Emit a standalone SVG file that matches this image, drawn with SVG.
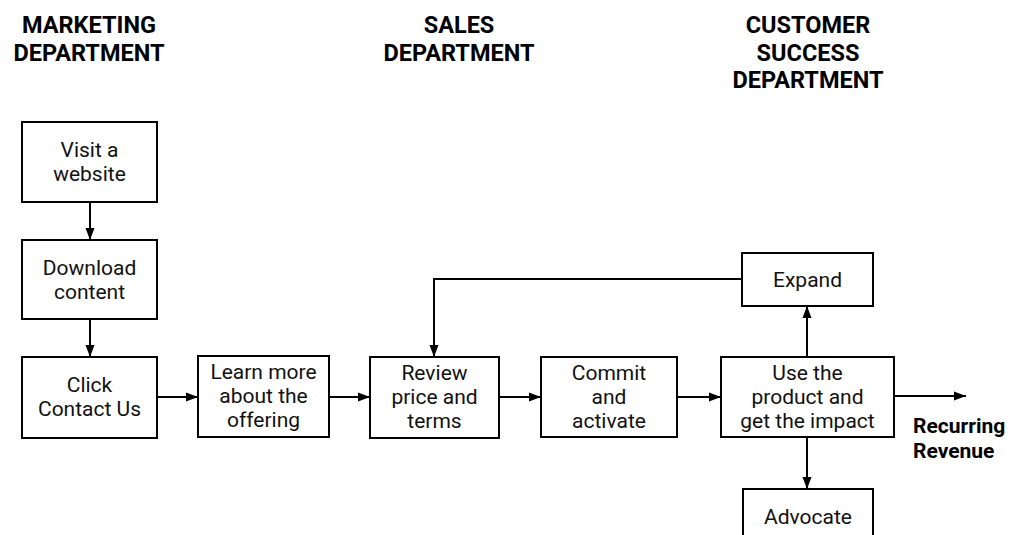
<svg xmlns="http://www.w3.org/2000/svg" width="1020" height="535" viewBox="0 0 1020 535">
<style>
.box{fill:#fff;stroke:#000;stroke-width:2}
.t{font-family:Roboto,"Liberation Sans",sans-serif;font-size:21px;fill:#111;text-anchor:middle}
.h{font-family:Roboto,"Liberation Sans",sans-serif;font-size:23.5px;font-weight:bold;fill:#000;text-anchor:middle}
.rr{font-family:Roboto,"Liberation Sans",sans-serif;font-size:21px;font-weight:bold;fill:#000}
.c{fill:none;stroke:#000;stroke-width:2}
</style>
<defs>
<marker id="ah" viewBox="0 0 12 10" refX="12" refY="5" markerWidth="12" markerHeight="10" orient="auto" markerUnits="userSpaceOnUse">
<path d="M0,0.5 L12,5 L0,9.5 z" fill="#000"/>
</marker>
</defs>
<rect width="1020" height="535" fill="#fff"/>
<g id="headers">
<text class="h" x="89" y="33">MARKETING</text>
<text class="h" x="89" y="61">DEPARTMENT</text>
<text class="h" x="459" y="33">SALES</text>
<text class="h" x="459" y="61">DEPARTMENT</text>
<text class="h" x="808" y="33">CUSTOMER</text>
<text class="h" x="808" y="61">SUCCESS</text>
<text class="h" x="808" y="88">DEPARTMENT</text>
</g>
<g id="connectors">
<line class="c" x1="90" y1="202" x2="90" y2="240" marker-end="url(#ah)"/>
<line class="c" x1="90" y1="319" x2="90" y2="357" marker-end="url(#ah)"/>
<line class="c" x1="157" y1="397" x2="198" y2="397" marker-end="url(#ah)"/>
<line class="c" x1="329" y1="397" x2="370" y2="397" marker-end="url(#ah)"/>
<line class="c" x1="499" y1="397" x2="541" y2="397" marker-end="url(#ah)"/>
<line class="c" x1="677" y1="397" x2="721" y2="397" marker-end="url(#ah)"/>
<line class="c" x1="807" y1="357" x2="807" y2="306" marker-end="url(#ah)"/>
<line class="c" x1="807" y1="437" x2="807" y2="489" marker-end="url(#ah)"/>
<polyline class="c" points="742,279 434,279 434,357" marker-end="url(#ah)"/>
<line class="c" x1="894" y1="396" x2="966" y2="396" marker-end="url(#ah)"/>
</g>
<g id="visit">
<rect class="box" x="22" y="122" width="135" height="80"/>
<text class="t" x="89.5" y="157">Visit a</text>
<text class="t" x="89.5" y="181">website</text>
</g>
<g id="download">
<rect class="box" x="22" y="240" width="135" height="79"/>
<text class="t" x="89.5" y="275">Download</text>
<text class="t" x="89.5" y="299">content</text>
</g>
<g id="click">
<rect class="box" x="22" y="357" width="135" height="81"/>
<text class="t" x="89.5" y="392">Click</text>
<text class="t" x="89.5" y="416">Contact Us</text>
</g>
<g id="learn">
<rect class="box" x="198" y="356" width="131" height="81"/>
<text class="t" x="263.5" y="379">Learn more</text>
<text class="t" x="263.5" y="403">about the</text>
<text class="t" x="263.5" y="427">offering</text>
</g>
<g id="review">
<rect class="box" x="370" y="357" width="129" height="81"/>
<text class="t" x="434.5" y="380">Review</text>
<text class="t" x="434.5" y="404">price and</text>
<text class="t" x="434.5" y="428">terms</text>
</g>
<g id="commit">
<rect class="box" x="541" y="357" width="136" height="80"/>
<text class="t" x="609" y="380">Commit</text>
<text class="t" x="609" y="404">and</text>
<text class="t" x="609" y="428">activate</text>
</g>
<g id="use">
<rect class="box" x="721" y="357" width="173" height="80"/>
<text class="t" x="807.5" y="380">Use the</text>
<text class="t" x="807.5" y="404">product and</text>
<text class="t" x="807.5" y="428">get the impact</text>
</g>
<g id="expand">
<rect class="box" x="742" y="253" width="131" height="53"/>
<text class="t" x="807.5" y="287">Expand</text>
</g>
<g id="advocate">
<rect class="box" x="743" y="489" width="130" height="60"/>
<text class="t" x="808" y="524">Advocate</text>
</g>
<g id="revenue">
<text class="rr" x="913" y="433">Recurring</text>
<text class="rr" x="913" y="458">Revenue</text>
</g>
</svg>
